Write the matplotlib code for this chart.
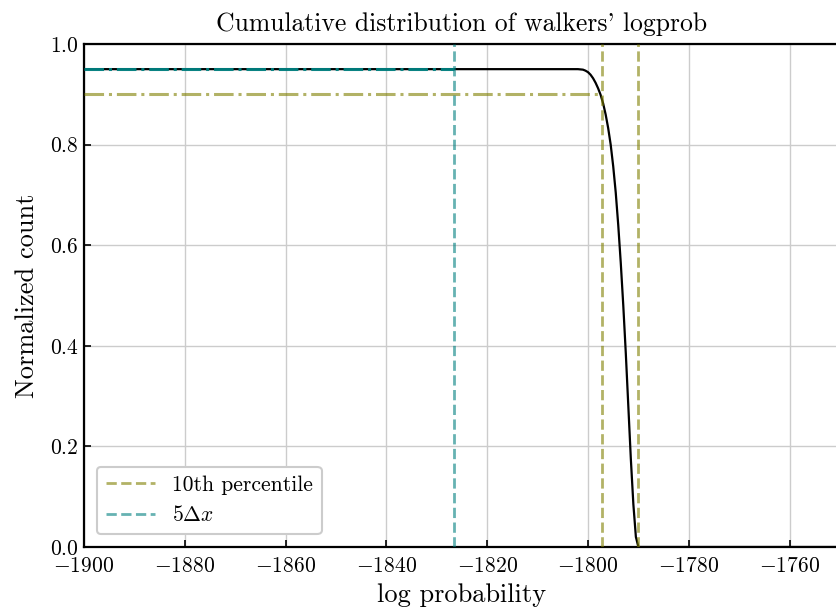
import matplotlib
matplotlib.use("Agg")
import matplotlib.pyplot as plt

plt.rcParams.update({
    "font.family": ["cmr10", "DejaVu Serif"],
    "mathtext.fontset": "cm",
    "axes.formatter.use_mathtext": True,
    "axes.unicode_minus": True,
})

# reverse cumulative of the walkers' log probability
logprob = [-1905, -1802, -1801, -1800.5, -1800, -1799.5, -1799, -1798.5,
           -1798, -1797.5, -1797, -1796.5, -1796, -1795.5, -1795, -1794.5,
           -1794, -1793.5, -1793, -1792.5, -1792, -1791.5, -1791, -1790.5,
           -1790, -1750]
cum_count = [0.950, 0.950, 0.949, 0.947, 0.944, 0.939, 0.932, 0.923,
             0.912, 0.899, 0.882, 0.860, 0.833, 0.800, 0.757, 0.705,
             0.640, 0.565, 0.480, 0.385, 0.280, 0.175, 0.085, 0.020,
             0.0, 0.0]

pct10_level = 0.90
pct10_x = [-1797.3, -1790.0]
dx5_level = 0.95
dx5_x = -1826.5

x_min, x_max = -1900, -1750

fig = plt.figure(figsize=(8.37, 6.11), dpi=100)
ax = fig.add_axes([84 / 837, 64 / 611, 756 / 837, 503 / 611])

ax.grid(True, color="#cccccc", linewidth=1.0)
ax.set_axisbelow(True)

ax.plot(logprob, cum_count, color="black", linewidth=1.6, zorder=3)

ax.plot([x_min, dx5_x], [dx5_level, dx5_level], color="teal",
        linestyle="-.", linewidth=2.2, alpha=0.95, zorder=4)
ax.plot([x_min, pct10_x[0]], [pct10_level, pct10_level], color="olive",
        linestyle="-.", linewidth=2.2, alpha=0.6, zorder=4)

for i, xv in enumerate(pct10_x):
    ax.axvline(xv, color="olive", linestyle="--", linewidth=2.0, alpha=0.6,
               label="10th percentile" if i == 0 else None, zorder=4)
ax.axvline(dx5_x, color="teal", linestyle="--", linewidth=2.0, alpha=0.6,
           label=r"5$\Delta x$", zorder=4)

ax.set_xlim(x_min, x_max)
ax.set_ylim(0, 1.0)
ax.set_xticks(range(-1900, -1749, 20))
ax.set_yticks([0.0, 0.2, 0.4, 0.6, 0.8, 1.0])
ax.tick_params(direction="in", length=5, width=1.2, labelsize=15.5, pad=4)
ax.tick_params(axis="x", pad=7)
for sp in ax.spines.values():
    sp.set_linewidth(1.6)

ax.set_xlabel("log probability", fontsize=19, labelpad=5)
ax.set_ylabel("Normalized count", fontsize=19, labelpad=8)
ax.set_title("Cumulative distribution of walkers' logprob", fontsize=18.5,
             pad=9)

leg = ax.legend(loc="lower left", fontsize=15.5, framealpha=1.0,
                edgecolor="#cccccc", handlelength=2.3,
                borderaxespad=0.6)
leg.get_frame().set_linewidth(1.5)

fig.savefig("out.png", dpi=100)
